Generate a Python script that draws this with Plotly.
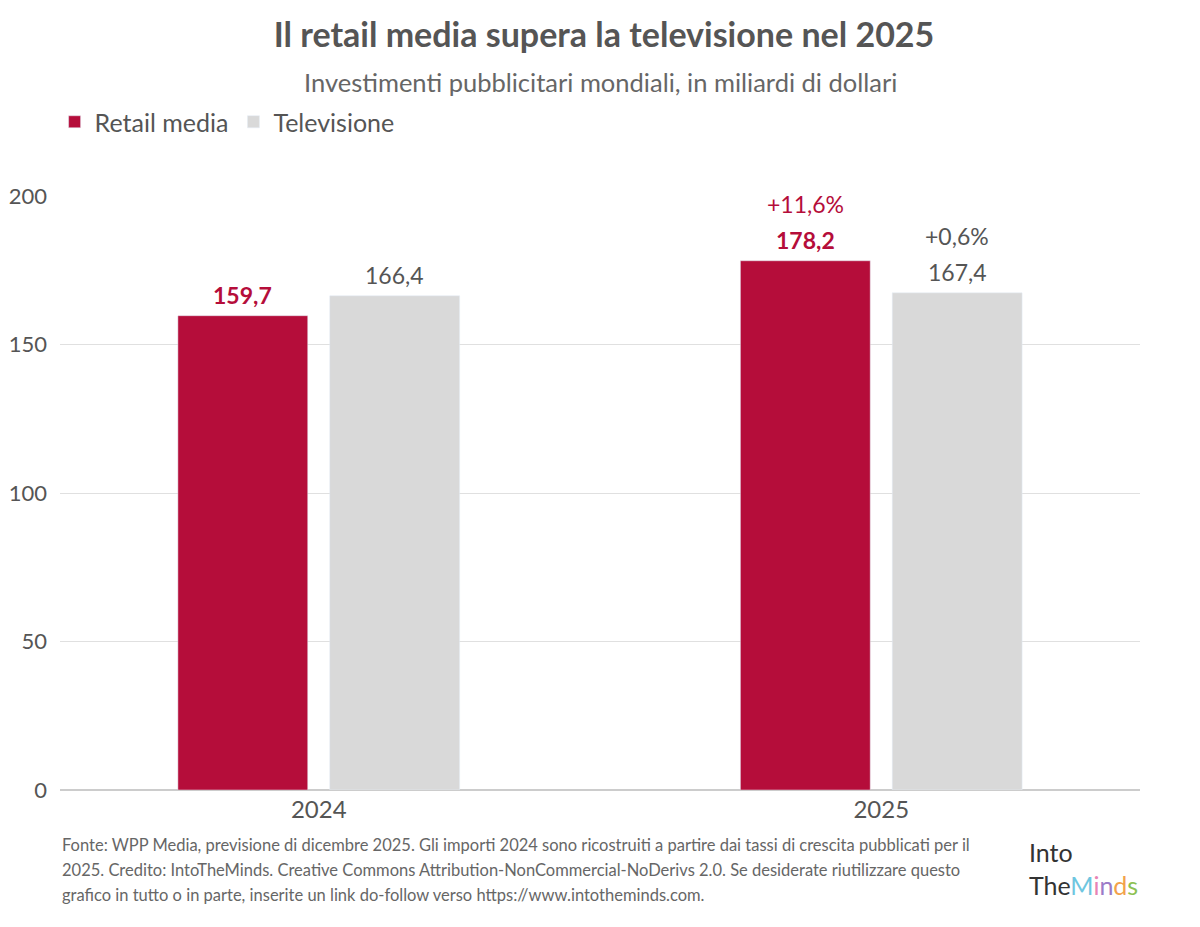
import plotly.graph_objects as go

# data
years = ["2024", "2025"]
retail = [159.7, 178.2]
tv = [166.4, 167.4]
retail_growth = [None, "+11,6%"]
tv_growth = [None, "+0,6%"]
y_ticks = [0, 50, 100, 150, 200]

RED = "#B50D3A"
GREY = "#D9D9D9"
TXT = "#555555"
FONT = "Lato, 'Open Sans', sans-serif"

footer_lines = [
    "Fonte: WPP Media, previsione di dicembre 2025. Gli importi 2024 sono ricostruiti a partire dai tassi di crescita pubblicati per il",
    "2025. Credito: IntoTheMinds. Creative Commons Attribution-NonCommercial-NoDerivs 2.0. Se desiderate riutilizzare questo",
    "grafico in tutto o in parte, inserite un link do-follow verso https://www.intotheminds.com.",
]

def fmt(v):
    return f"{v:.1f}".replace(".", ",")

fig = go.Figure()
fig.add_trace(go.Bar(x=years, y=retail, name="Retail media", marker_color=RED))
fig.add_trace(go.Bar(x=years, y=tv, name="Televisione", marker_color=GREY))

# value and growth labels above the bars
for series, growth, col, dx, bold in [(retail, retail_growth, RED, -76, True),
                                      (tv, tv_growth, TXT, 76, False)]:
    for i, (val, g) in enumerate(zip(series, growth)):
        label = f"<b>{fmt(val)}</b>" if bold else fmt(val)
        fig.add_annotation(x=i, y=val, text=label, showarrow=False, xshift=dx, yshift=21,
                           yanchor="middle", font=dict(color=col, size=23, family=FONT))
        if g:
            fig.add_annotation(x=i, y=val, text=g, showarrow=False, xshift=dx, yshift=57,
                               yanchor="middle", font=dict(color=col, size=23, family=FONT))

fig.add_annotation(xref="paper", yref="paper", x=0.5, y=1.192, yanchor="middle",
                   text="Investimenti pubblicitari mondiali, in miliardi di dollari",
                   showarrow=False, font=dict(size=25.5, color="#666666", family=FONT))

for i, line in enumerate(footer_lines):
    fig.add_annotation(xref="paper", yref="paper", x=0, xanchor="left",
                       y=(790 - 845 - 25 * i) / 594, yanchor="middle", text=line,
                       showarrow=False, align="left",
                       font=dict(size=16.5, color="#666666", family=FONT))

# logo as text
fig.add_annotation(xref="paper", yref="paper", x=1.0, xanchor="right", y=(790 - 868) / 594,
                   yanchor="middle", align="left", showarrow=False,
                   text="Into<br>The<span style='color:#6EC6E0'>M</span><span style='color:#E884B4'>i</span>"
                        "<span style='color:#9B7BC8'>n</span><span style='color:#F2A24A'>d</span>"
                        "<span style='color:#8CC152'>s</span>",
                   font=dict(size=25, color="#333333", family=FONT))

fig.update_layout(
    width=1192, height=919,
    title=dict(text="<b>Il retail media supera la televisione nel 2025</b>", x=0.5, xanchor="center",
               y=1 - 27 / 919, yanchor="middle", font=dict(size=34, color=TXT, family=FONT)),
    font=dict(family=FONT, color=TXT),
    barmode="group", bargap=0.46, bargroupgap=0.145,
    plot_bgcolor="white", paper_bgcolor="white",
    margin=dict(l=52, r=60, t=188, b=137),
    legend=dict(orientation="h", x=-0.005, xanchor="left", y=(790 - 122) / 594, yanchor="middle",
                font=dict(size=25, color=TXT, family=FONT), traceorder="normal"),
    xaxis=dict(type="category", range=[-0.46, 1.46], tickfont=dict(size=24, color=TXT),
               ticklabelstandoff=3, showline=False, showgrid=False, automargin=False),
    yaxis=dict(range=[0, 200], tickvals=y_ticks, tickfont=dict(size=22, color=TXT),
               gridcolor="#E0E0E0", zeroline=True, zerolinecolor="#CCCCCC", zerolinewidth=2,
               ticklabelstandoff=12, showline=False, automargin=False),
)

fig.write_html("out.html")
